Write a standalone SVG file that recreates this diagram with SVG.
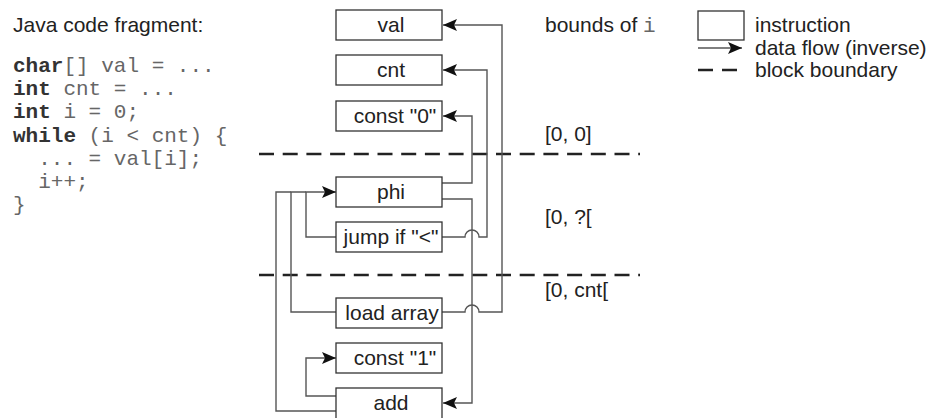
<svg xmlns="http://www.w3.org/2000/svg" width="930" height="418" viewBox="0 0 930 418">
<defs>
<style>
.t{font-family:"Liberation Sans",Arial,sans-serif;font-size:21px;fill:#222}
.m{text-anchor:middle}
.c{font-family:"Liberation Mono","Courier New",monospace;font-size:21px;fill:#666;white-space:pre}
.k{font-weight:bold;fill:#333}
.box{fill:#fff;stroke:#333;stroke-width:1.3}
.ln{fill:none;stroke:#555;stroke-width:1.4}
.dash{fill:none;stroke:#222;stroke-width:2.5;stroke-dasharray:15 8.7}
</style>
<marker id="ah" markerUnits="userSpaceOnUse" markerWidth="16" markerHeight="14" refX="14" refY="6" orient="auto">
<path d="M0,0 L14,6 L0,12 L3,6 Z" fill="#111"/>
</marker>
</defs>
<rect width="930" height="418" fill="#fff"/>

<g id="code">
<text class="t" x="13" y="32">Java code fragment:</text>
<text class="c" x="13" y="72" xml:space="preserve"><tspan class="k">char</tspan>[] val = ...</text>
<text class="c" x="13" y="95" xml:space="preserve"><tspan class="k">int</tspan> cnt = ...</text>
<text class="c" x="13" y="118" xml:space="preserve"><tspan class="k">int</tspan> i = 0;</text>
<text class="c" x="13" y="142" xml:space="preserve"><tspan class="k">while</tspan> (i &lt; cnt) {</text>
<text class="c" x="13" y="165" xml:space="preserve">  ... = val[i];</text>
<text class="c" x="13" y="188" xml:space="preserve">  i++;</text>
<text class="c" x="13" y="211" xml:space="preserve">}</text>
</g>

<g id="boundaries">
<line class="dash" x1="259" y1="154" x2="640" y2="154"/>
<line class="dash" x1="259" y1="275" x2="640" y2="275"/>
</g>

<g id="connectors">
<path class="ln" d="M442,312 H465 A7,7 0 0 1 479,312 H502 V25 H443" marker-end="url(#ah)"/>
<path class="ln" d="M442,237 H465 A7,7 0 0 1 479,237 H487 V70 H443" marker-end="url(#ah)"/>
<path class="ln" d="M442,183 H472 V116 H443" marker-end="url(#ah)"/>
<path class="ln" d="M442,199 H472 V403 H443" marker-end="url(#ah)"/>
<path class="ln" d="M336,237 H306 V192 H336" marker-end="url(#ah)"/>
<path class="ln" d="M336,312 H291 V192 H306"/>
<path class="ln" d="M336,411 H276 V192 H291"/>
<path class="ln" d="M336,396 H306 V358 H336" marker-end="url(#ah)"/>
</g>

<g id="n-val"><rect class="box" x="336" y="10" width="106" height="30"/><text class="t m" x="391" y="32">val</text></g>
<g id="n-cnt"><rect class="box" x="336" y="55" width="106" height="30"/><text class="t m" x="391" y="77">cnt</text></g>
<g id="n-const0"><rect class="box" x="336" y="101" width="106" height="30"/><text class="t m" x="395" y="123">const "0"</text></g>
<g id="n-phi"><rect class="box" x="336" y="177" width="106" height="30"/><text class="t m" x="391" y="199">phi</text></g>
<g id="n-jump"><rect class="box" x="336" y="222" width="106" height="30"/><text class="t m" x="391" y="244">jump if "&lt;"</text></g>
<g id="n-load"><rect class="box" x="336" y="298" width="106" height="30"/><text class="t m" x="392" y="320">load array</text></g>
<g id="n-const1"><rect class="box" x="336" y="343" width="106" height="30"/><text class="t m" x="395" y="365">const "1"</text></g>
<g id="n-add"><rect class="box" x="336" y="388" width="106" height="40"/><text class="t m" x="391" y="410">add</text></g>

<g id="bounds">
<text class="t" x="545" y="32">bounds of <tspan class="c">i</tspan></text>
<text class="t" x="545" y="141">[0, 0]</text>
<text class="t" x="545" y="224">[0, ?[</text>
<text class="t" x="545" y="297">[0, cnt[</text>
</g>

<g id="legend">
<rect class="box" x="698" y="11" width="46" height="29"/>
<text class="t" x="755" y="32">instruction</text>
<path class="ln" d="M698,48 H742" marker-end="url(#ah)"/>
<text class="t" x="755" y="55">data flow (inverse)</text>
<path class="dash" d="M698,70 H737" style="stroke-dasharray:15 9"/>
<text class="t" x="755" y="77">block boundary</text>
</g>
</svg>
